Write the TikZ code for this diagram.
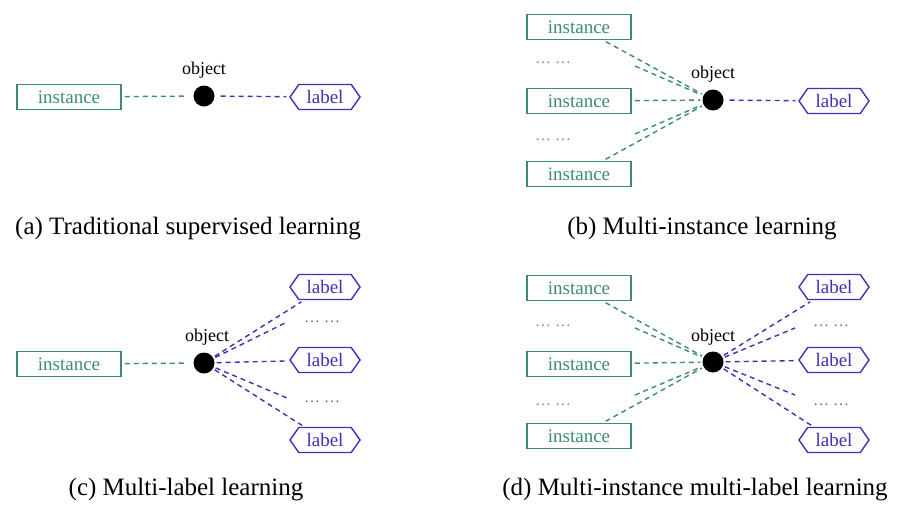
\documentclass[tikz,border=0pt]{standalone}
\usepackage{fontspec}
\setmainfont{Liberation Serif}
\usetikzlibrary{shapes.symbols}
\definecolor{instc}{RGB}{60,140,112}
\definecolor{labc}{RGB}{60,50,180}
\definecolor{idots}{RGB}{120,150,140}
\definecolor{ldots}{RGB}{110,110,170}
\begin{document}
\begin{tikzpicture}[x=1pt,y=-1pt,
  inst/.style={draw=instc,text=instc,line width=1.5pt,minimum width=104pt,minimum height=25pt,inner sep=0pt,font=\fontsize{19}{19}\selectfont},
  lab/.style={signal,signal to=east and west,signal pointer angle=110,draw=labc,text=labc,line width=1.4pt,minimum width=70pt,minimum height=25pt,inner sep=1pt,font=\fontsize{19}{19}\selectfont},
  obj/.style={circle,fill=black,minimum size=21pt,inner sep=0pt},
  objtxt/.style={font=\fontsize{18}{18}\selectfont,inner sep=0pt},
  idot/.style={text=idots,font=\fontsize{16}{16}\selectfont,inner sep=0pt},
  ldot/.style={text=ldots,font=\fontsize{16}{16}\selectfont,inner sep=0pt},
  ilink/.style={draw=instc,dash pattern=on 5pt off 4pt,line width=1.4pt,shorten <=3pt,shorten >=2pt},
  llink/.style={draw=labc,dash pattern=on 5pt off 4pt,line width=1.4pt,shorten <=2pt,shorten >=3pt},
  captxt/.style={font=\fontsize{25}{25}\selectfont,inner sep=0pt}]
\useasboundingbox (0,0) rectangle (897,506);
% (a)
\node[inst] (ia) at (69,97) {instance};
\node[obj] (oa) at (204,96) {};
\node[objtxt] (ota) at (204,70) {object};
\node[lab] (la) at (325,97) {label};
\draw[ilink,shorten >=6pt] (ia) -- (oa);
\draw[llink,shorten <=6pt] (oa) -- (la);
\node[captxt] (ca) at (188,229) {(a) Traditional supervised learning};
% (b)
\node[inst] (ib1) at (579,27) {instance};
\node[inst] (ib2) at (579,101) {instance};
\node[inst] (ib3) at (579,174) {instance};
\node[idot] (db1) at (553,63) {\textellipsis\ \textellipsis};
\node[idot] (db2) at (553,140) {\textellipsis\ \textellipsis};
\coordinate (bc1) at (635,66);
\coordinate (bc2) at (635,134);
\node[obj] (ob) at (713,100) {};
\node[objtxt] (otb) at (713,74) {object};
\node[lab] (lb) at (834,101) {label};
\foreach \s in {ib1,ib2,ib3} \draw[ilink] (\s) -- (ob);
\foreach \s in {bc1,bc2} \draw[ilink,shorten <=0pt] (\s) -- (ob);
\draw[llink,shorten <=6pt] (ob) -- (lb);
\node[captxt] (cb) at (702,229) {(b) Multi-instance learning};
% (c)
\node[inst] (ic) at (69,364) {instance};
\node[obj] (oc) at (204,363) {};
\node[objtxt] (otc) at (207,337) {object};
\node[lab] (lc1) at (325,287) {label};
\node[lab] (lc2) at (325,360) {label};
\node[lab] (lc3) at (325,440) {label};
\node[ldot] (dc1) at (322,322) {\textellipsis\ \textellipsis};
\node[ldot] (dc2) at (322,402) {\textellipsis\ \textellipsis};
\coordinate (cc1) at (287,322);
\coordinate (cc2) at (287,398);
\draw[ilink,shorten >=6pt] (ic) -- (oc);
\foreach \t in {lc1,lc2,lc3} \draw[llink] (oc) -- (\t);
\foreach \t in {cc1,cc2} \draw[llink,shorten >=0pt] (oc) -- (\t);
\node[captxt] (cc) at (186,490) {(c) Multi-label learning};
% (d)
\node[inst] (id1) at (579,288) {instance};
\node[inst] (id2) at (579,364) {instance};
\node[inst] (id3) at (579,436) {instance};
\node[idot] (dd1) at (553,326) {\textellipsis\ \textellipsis};
\node[idot] (dd2) at (553,405) {\textellipsis\ \textellipsis};
\coordinate (dc1s) at (635,328);
\coordinate (dc2s) at (635,395);
\node[obj] (od) at (713,362) {};
\node[objtxt] (otd) at (713,337) {object};
\node[lab] (ld1) at (834,287) {label};
\node[lab] (ld2) at (834,360) {label};
\node[lab] (ld3) at (834,440) {label};
\node[ldot] (dl1) at (831,326) {\textellipsis\ \textellipsis};
\node[ldot] (dl2) at (831,405) {\textellipsis\ \textellipsis};
\coordinate (dl1s) at (795,328);
\coordinate (dl2s) at (795,395);
\foreach \s in {id1,id2,id3} \draw[ilink] (\s) -- (od);
\foreach \s in {dc1s,dc2s} \draw[ilink,shorten <=0pt] (\s) -- (od);
\foreach \t in {ld1,ld2,ld3} \draw[llink] (od) -- (\t);
\foreach \t in {dl1s,dl2s} \draw[llink,shorten >=0pt] (od) -- (\t);
\node[captxt] (cd) at (695,490) {(d) Multi-instance multi-label learning};
\end{tikzpicture}
\end{document}
